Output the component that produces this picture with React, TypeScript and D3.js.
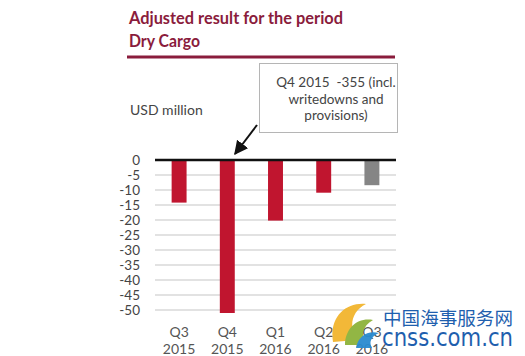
import React from "react";
import * as d3 from "d3";

const categories = ["Q3 2015", "Q4 2015", "Q1 2016", "Q2 2016", "Q3 2016"];
const values = [-14.2, -51, -20.2, -10.9, -8.4];
const kinds = ["actual", "actual", "actual", "actual", "outlook"];
const yTicks = [0, -5, -10, -15, -20, -25, -30, -35, -40, -45, -50];
const titleLines = ["Adjusted result for the period", "Dry Cargo"];
const noteLines = ["Q4 2015  -355 (incl.", "writedowns and", "provisions)"];
const unitLabel = "USD million";

const W = 525, H = 356;
const FONT = "Lato, 'Open Sans', sans-serif";

export default function App() {
  const x = d3.scaleBand<string>().domain(categories).range([155, 396]).paddingInner(0.69).paddingOuter(0.345);
  const y = d3.scaleLinear().domain([0, -50]).range([160, 310]);
  const titleColor = "#8a1c3c";
  return (
    <svg width={W} height={H} style={{ position: "absolute", left: 0, top: 0, background: "#fff" }} fontFamily={FONT}>
      <defs>
        <marker id="ah" viewBox="0 0 10 10" refX="9" refY="5" markerWidth="7" markerHeight="7" orient="auto">
          <path d="M0,0 L10,5 L0,10 z" fill="#111" />
        </marker>
      </defs>
      <rect x={0} y={0} width={W} height={H} fill="#fff" />
      {titleLines.map((t, i) => (
        <text key={t} x={129} y={24 + i * 23} fill={titleColor} fontWeight="bold" fontSize={16.5}
          textLength={i === 0 ? 214 : 71} lengthAdjust="spacingAndGlyphs">{t}</text>
      ))}
      <line x1={127} x2={395} y1={57} y2={57} stroke={titleColor} strokeWidth={3} />

      <rect x={259.5} y={63.5} width={138} height={69} fill="#fff" stroke="#b5b5b5" strokeWidth={1} />
      {noteLines.map((t, i) => (
        <text key={t} x={336} y={87 + i * 16.5} textAnchor="middle" fontSize={13.5} fill="#444"
          style={{ whiteSpace: "pre" }}>{t}</text>
      ))}
      <text x={130} y={115} fontSize={14} fill="#444">{unitLabel}</text>
      <line x1={257} y1={125} x2={235} y2={154} stroke="#111" strokeWidth={2} markerEnd="url(#ah)" />

      {yTicks.filter(v => v !== 0).map(v => (
        <line key={v} x1={155} x2={396} y1={y(v)} y2={y(v)} stroke="#d9d9d9" strokeWidth={1.5} />
      ))}
      {yTicks.map(v => (
        <text key={"t" + v} x={140} y={y(v) + 4.5} textAnchor="end" fontSize={13.5} fill="#444">{v}</text>
      ))}
      {categories.map((c, i) => (
        <rect key={c} x={x(c)} y={y(0)} width={x.bandwidth()} height={y(values[i]) - y(0)}
          fill={kinds[i] === "actual" ? "#c0152f" : "#858585"} />
      ))}
      <line x1={155} x2={396} y1={y(0)} y2={y(0)} stroke="#111" strokeWidth={2.5} />
      {categories.map(c => {
        const [q, yr] = c.split(" ");
        const cx = (x(c) as number) + x.bandwidth() / 2;
        return (
          <g key={"l" + c}>
            <text x={cx} y={337} textAnchor="middle" fontSize={14} fill="#555">{q}</text>
            <text x={cx} y={354} textAnchor="middle" fontSize={14} fill="#555">{yr}</text>
          </g>
        );
      })}

      <g opacity={0.95}>
        <path d="M333,342 C329,318 345,302 366,304 C352,311 348,326 357,340 Z" fill="#f2b52e" />
        <path d="M345,345 C345,328 358,317 373,320 C362,326 360,337 367,345 Z" fill="#8db33a" />
        <path d="M356,348 C358,336 368,330 379,333 C370,337 369,343 372,348 Z" fill="#2a8bd0" />
      </g>
      <text x={383} y={325} fontSize={18.5} fill="#1f5fae" fontFamily="'Noto Sans CJK SC', sans-serif" textLength={130} lengthAdjust="spacingAndGlyphs">中国海事服务网</text>
      <text x={382} y={346} fontSize={24} fill="#1f5fae" fontFamily="'DejaVu Sans', sans-serif" textLength={131} lengthAdjust="spacingAndGlyphs">cnss.com.cn</text>
    </svg>
  );
}
